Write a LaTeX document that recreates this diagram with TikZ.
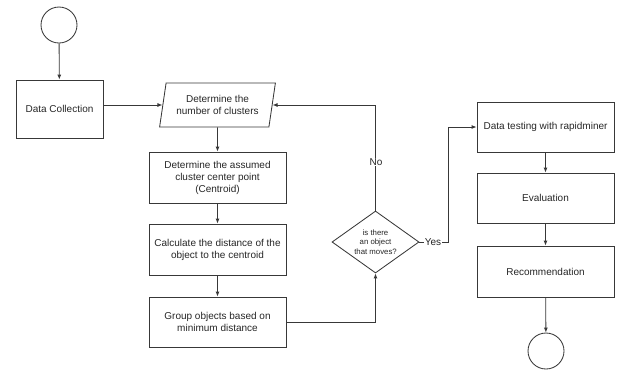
\documentclass[tikz,border=0pt]{standalone}
\usepackage{fontspec}
\setmainfont{Liberation Sans}
\usetikzlibrary{shapes.geometric,arrows.meta}
\begin{document}
\begin{tikzpicture}[x=1bp,y=-1bp,
  every node/.style={font=\fontsize{10bp}{12bp}\selectfont, text=black!85, align=center},
  ln/.style={draw=black!78, line width=0.85pt},
  box/.style={ln, rectangle, minimum width=137bp, minimum height=51bp, inner sep=2pt},
  term/.style={ln, circle, minimum size=36bp, inner sep=0pt},
  conn/.style={ln, -{Latex[length=5pt,width=4pt]}},
  lbl/.style={fill=white, inner sep=1pt}
]
\useasboundingbox (0,0) rectangle (617,369);
\node[term] (start) at (59,25) {};
\node[box, minimum width=87bp, minimum height=58bp] (dc) at (59.5,109) {Data Collection};
\node[ln, trapezium, trapezium left angle=76, trapezium right angle=104, trapezium stretches=true,
      minimum width=117bp, minimum height=44bp, inner sep=1pt] (par) at (217.5,105) {Determine the\\number of clusters};
\node[box] (b2) at (217.5,177.5) {Determine the assumed\\cluster center point\\(Centroid)};
\node[box] (b3) at (217.5,249.5) {Calculate the distance of the\\object to the centroid};
\node[box, minimum height=50bp] (b4) at (217.5,322) {Group objects based on\\minimum distance};
\node[ln, diamond, minimum width=87bp, minimum height=62bp, inner sep=0pt, aspect=1.4,
      font=\fontsize{7.8bp}{9.5bp}\selectfont] (dia) at (375.5,242) {is there\\an object\\that moves?};
\node[box, minimum height=50bp] (r1) at (545.5,127) {Data testing with rapidminer};
\node[box, minimum height=50bp] (r2) at (545.5,198) {Evaluation};
\node[box] (r3) at (545.5,271.5) {Recommendation};
\node[term] (end) at (546,351) {};

\draw[conn] (start) -- (dc);
\draw[conn] (dc.east |- par.west) -- (par.west);
\draw[conn] (par.south) -- (b2.north);
\draw[conn] (b2) -- (b3);
\draw[conn] (b3) -- (b4);
\draw[conn] (b4.east) -| (dia.south);
\draw[conn] (dia.north) -- (dia.north |- par.east) -- (par.east);
\node[lbl] (no) at (376,162) {No};
\coordinate (yc) at (448,242);
\draw[conn] (dia.east) -- (yc) |- (r1.west);
\node[lbl] (yes) at (433,242) {Yes};
\draw[conn] (r1) -- (r2);
\draw[conn] (r2) -- (r3);
\draw[conn] (r3) -- (end);
\end{tikzpicture}
\end{document}
